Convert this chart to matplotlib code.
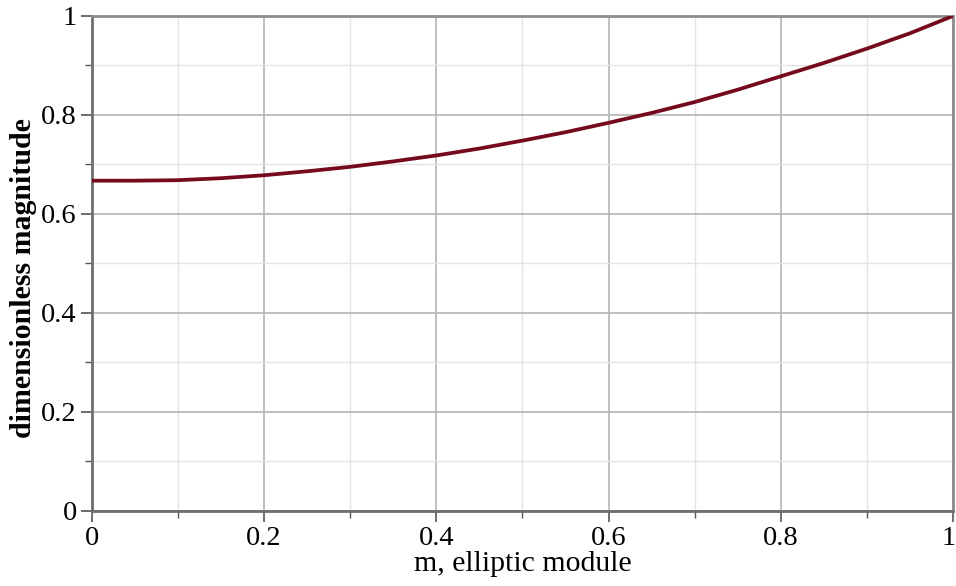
import numpy as np
import matplotlib.pyplot as plt
import matplotlib.transforms as mtransforms
from matplotlib.ticker import MultipleLocator

# elliptic module m and the dimensionless magnitude read at each step
m_values = [0.0, 0.05, 0.1, 0.15, 0.2, 0.25, 0.3, 0.35, 0.4, 0.45, 0.5,
            0.55, 0.6, 0.65, 0.7, 0.75, 0.8, 0.85, 0.9, 0.95, 1.0]
magnitude = [0.667, 0.667, 0.668, 0.672, 0.678, 0.686, 0.695, 0.706, 0.718, 0.732, 0.748,
             0.765, 0.784, 0.804, 0.826, 0.851, 0.878, 0.905, 0.934, 0.965, 1.0]

x_ticks = [0, 0.2, 0.4, 0.6, 0.8, 1]
x_tick_labels = ['0', '0.2', '0.4', '0.6', '0.8', '1']
y_ticks = [0, 0.2, 0.4, 0.6, 0.8, 1]
y_tick_labels = ['0', '0.2', '0.4', '0.6', '0.8', '1']

plt.rcParams['font.family'] = ['Liberation Serif', 'DejaVu Serif']

fig = plt.figure(figsize=(9.56, 5.86), dpi=100)
ax = fig.add_axes([0.0962, 0.1288, 0.9006, 0.8439])

ax.plot(m_values, magnitude, color='#740a1c', linewidth=2.7,
        solid_joinstyle='round', solid_capstyle='butt', zorder=3)

ax.set_xlim(0, 1)
ax.set_ylim(0, 1)
ax.set_xticks(x_ticks)
ax.set_xticklabels(x_tick_labels)
ax.set_yticks(y_ticks)
ax.set_yticklabels(y_tick_labels)
ax.xaxis.set_minor_locator(MultipleLocator(0.1))
ax.yaxis.set_minor_locator(MultipleLocator(0.1))

# major and minor grid
ax.grid(which='major', color='#b4b4b4', linewidth=1.2)
ax.grid(which='minor', color='#e4e4e4', linewidth=1.0)
ax.set_axisbelow(True)

ax.tick_params(which='major', direction='out', length=8, width=1.2, color='#555555',
               labelsize=20.5, pad=3)
ax.tick_params(which='minor', direction='out', length=5, width=1.0, color='#555555')

# keep the last x label inside the figure edge
last = ax.get_xticklabels()[-1]
last.set_transform(last.get_transform() +
                   mtransforms.ScaledTranslation(-4 / 100, 0, fig.dpi_scale_trans))

for side in ['left', 'bottom']:
    ax.spines[side].set_color('#6e6e6e')
    ax.spines[side].set_linewidth(2.0)
for side in ['top', 'right']:
    ax.spines[side].set_color('#8c8c8c')
    ax.spines[side].set_linewidth(2.0)

ax.set_xlabel('m, elliptic module', fontsize=21.5, labelpad=0)
ax.set_ylabel('dimensionless magnitude', fontsize=21.5, fontweight='bold')
ax.yaxis.set_label_coords(-0.064, 0.47)

fig.savefig('out.png', dpi=100)
